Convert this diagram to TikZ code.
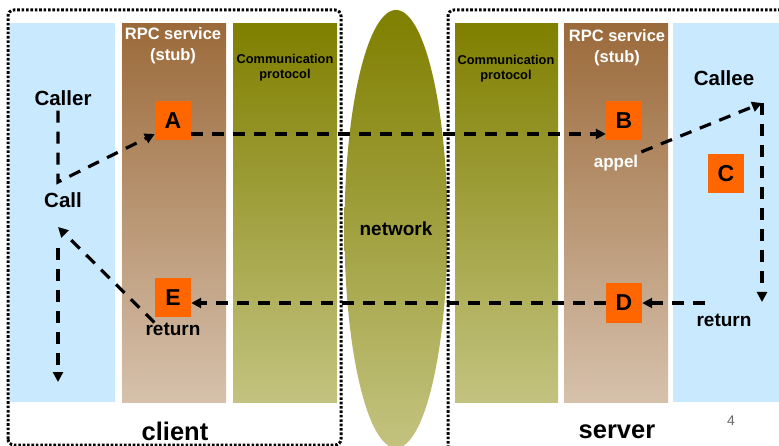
\documentclass[tikz,border=0pt]{standalone}
\usepackage{fontspec}
\setmainfont{Liberation Sans}
\usetikzlibrary{arrows.meta,positioning,shapes.geometric,shadings}
\definecolor{rpcbrown}{HTML}{9B6A3A}
\definecolor{rpcbrownlt}{HTML}{D6C1AC}
\definecolor{rpcolive}{HTML}{7F7F00}
\definecolor{rpcolivelt}{HTML}{C3C380}
\definecolor{rpcblue}{HTML}{C9E9FF}
\definecolor{rpcorange}{HTML}{FF6600}

\begin{document}
\begin{tikzpicture}[
  x=1pt, y=-1pt,
  col/.style={anchor=north west, inner sep=0pt, minimum height=379pt},
  app/.style={col, fill=rpcblue},
  stub/.style={col, top color=rpcbrown, bottom color=rpcbrownlt},
  proto/.style={col, top color=rpcolive, bottom color=rpcolivelt},
  letter/.style={fill=rpcorange, minimum width=36pt, minimum height=39pt, inner sep=0pt, font=\bfseries\fontsize{23}{23}\selectfont},
  head/.style={align=center, text=white, font=\bfseries\fontsize{16.5}{21}\selectfont},
  protohead/.style={align=center, font=\bfseries\fontsize{12.8}{15}\selectfont},
  role/.style={inner sep=5pt, font=\bfseries\fontsize{20.5}{22}\selectfont},
  note/.style={inner sep=0pt, font=\bfseries\fontsize{19}{21}\selectfont},
  side/.style={font=\bfseries\fontsize{25.5}{27}\selectfont},
  frame/.style={line width=3pt, dash pattern=on 2.6pt off 1.8pt, rounded corners=6pt},
  flow/.style={line width=3.2pt, dash pattern=on 12pt off 9pt},
  edge/.style={flow, -{Triangle[length=10pt,width=10pt]}}
]
\useasboundingbox (0,0) rectangle (779,446);
\clip (0,0) rectangle (779,446);
% columns, client side
\node[app, minimum width=105pt] (callercol) at (10,23) {};
\node[stub, minimum width=104pt] (cstub) at (122,23) {};
\node[proto, minimum width=104pt] (cproto) at (233,23) {};
% network
\node[ellipse, inner sep=0pt, minimum width=102pt, minimum height=438pt, top color=rpcolive, bottom color=rpcolivelt, font=\bfseries\fontsize{19}{21}\selectfont] (net) at (396,229) {network};
% columns, server side
\node[proto, minimum width=103pt] (sproto) at (455,23) {};
\node[stub, minimum width=104pt] (sstub) at (564,23) {};
\node[app, minimum width=106pt] (calleecol) at (673,23) {};
% frames
\draw[frame] (8,445) -- (8,10) -- (341,10) -- (341,445) -- cycle;
\draw[frame] (448,470) -- (448,10) -- (800,10) -- (800,470);
% titles
\node[head] (cstubt) at (173,46) {RPC service\\(stub)};
\node[head] (sstubt) at (617,48) {RPC service\\(stub)};
\node[protohead] (cprotot) at (285,68) {Communication\\protocol};
\node[protohead] (sprotot) at (506,69) {Communication\\protocol};
\node[role] (caller) at (63,98) {Caller};
\node[role] (call) at (63,200) {Call};
\node[role] (callee) at (724,78) {Callee};
\node[side] (client) at (175,431) {client};
\node[side] (server) at (617,432) {server};
\node[text=black!60, font=\fontsize{14}{14}\selectfont] (page) at (731,421) {4};
% steps
\node[letter] (A) at (173,121) {A};
\node[letter] (B) at (624,121) {B};
\node[letter] (C) at (726,174) {C};
\node[letter] (D) at (624,303) {D};
\node[letter] (E) at (173,298) {E};
\node[inner sep=3pt, text=white, font=\bfseries\fontsize{17}{19}\selectfont] (appel) at (616,163) {appel};
\node[note] (cret) at (173,329) {return};
\node[note] (sret) at (724,320) {return};
% turning points
\coordinate (callup) at (58,182);
\coordinate (callback) at (58,227);
\coordinate (calldown) at (58,248);
\coordinate (callend) at (58,382);
\coordinate (calleetop) at (762,103);
\coordinate (calleebot) at (762,302);
\coordinate (retstart) at (705,303);
% flow
\draw[edge] (caller.south -| callup) -- (callup) -- ([yshift=-13pt]A.west);
\draw[edge] ([yshift=-13pt]A.east) -- ([yshift=-13pt]B.west);
\draw[edge] (appel.north east) -- (calleetop);
\draw[edge] (calleetop) -- (calleebot);
\draw[edge] (retstart) -- (D.east);
\draw[edge] (D.west) -- (D.west -| E.east);
\draw[edge] ([xshift=9pt]cret.north west) -- (callback);
\draw[edge] (calldown) -- (callend);
\end{tikzpicture}
\end{document}
